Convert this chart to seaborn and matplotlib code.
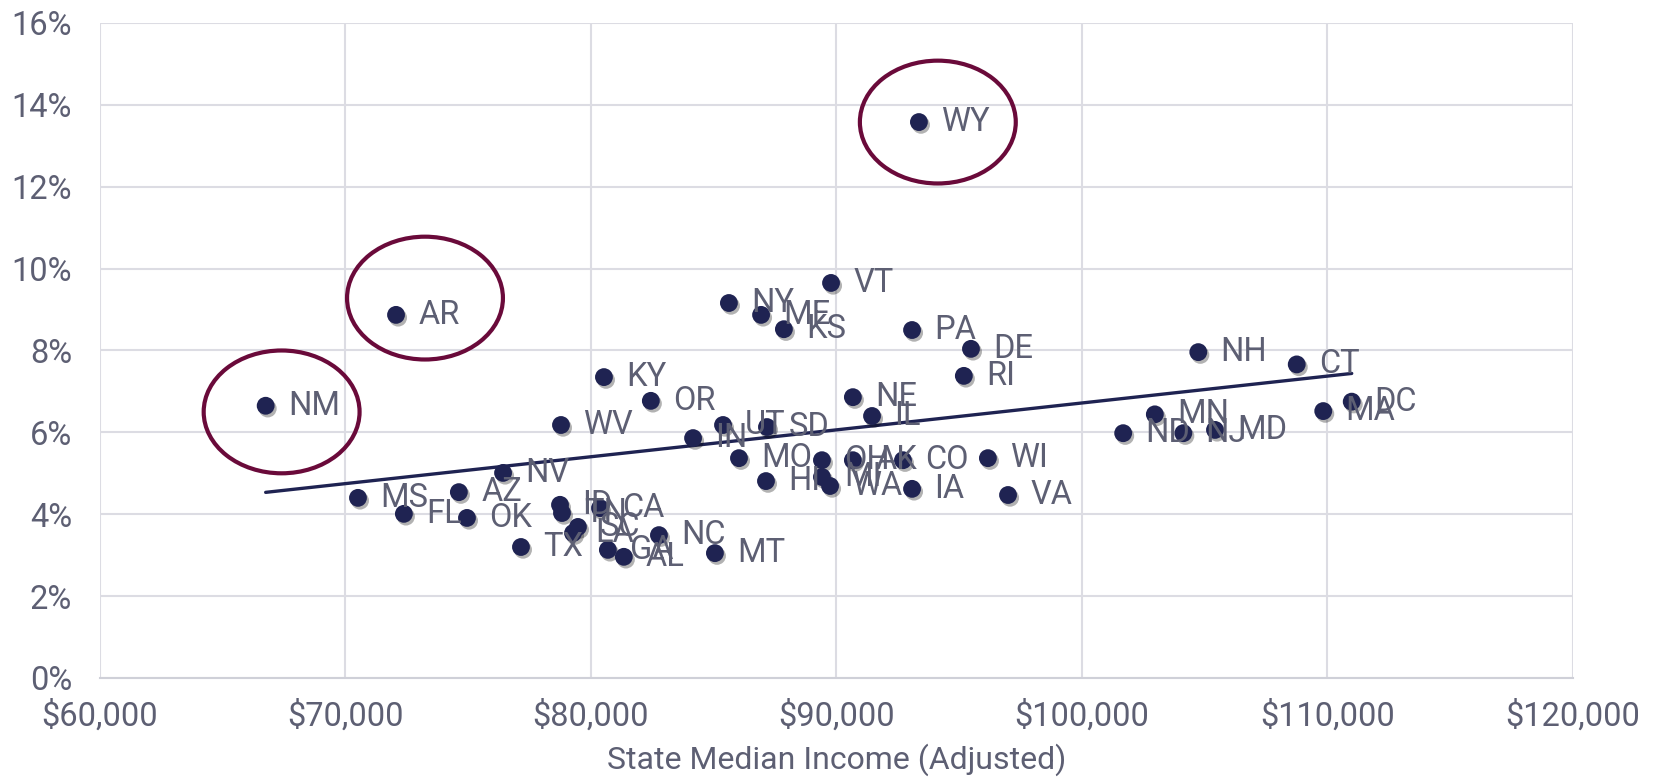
import numpy as np
import pandas as pd
import seaborn as sns
import matplotlib
matplotlib.use('Agg')
import matplotlib.pyplot as plt
import matplotlib.patheffects as pe
from matplotlib.patches import Ellipse
from matplotlib.ticker import FuncFormatter, MultipleLocator

# State data
states = ['NM', 'AR', 'WY', 'MS', 'FL', 'AZ', 'OK', 'NV', 'TX', 'ID',
          'TN', 'LA', 'SC', 'CA', 'GA', 'AL', 'NC', 'MT', 'KY', 'OR',
          'IN', 'UT', 'SD', 'WV', 'NE', 'IL', 'NY', 'ME', 'KS', 'VT',
          'PA', 'DE', 'RI', 'MO', 'HI', 'OH', 'MI', 'WA', 'AK', 'CO',
          'IA', 'WI', 'VA', 'NH', 'CT', 'MN', 'ND', 'NJ', 'MD', 'MA', 'DC']
income = [66750, 72060, 93360, 70510, 72380, 74620, 74950, 76420, 77150, 78740,
          78820, 79270, 79470, 80370, 80690, 81340, 82770, 85050, 80530, 82440,
          84160, 85380, 87170, 78780, 90670, 91450, 85620, 86930, 87860, 89780,
          93080, 95480, 95190, 86030, 87130, 89410, 89410, 89740, 90670, 92710,
          93080, 96170, 96990, 104740, 108750, 102970, 101680, 104130, 105420, 109830, 110990]
rate = [6.65, 8.87, 13.58, 4.40, 4.01, 4.54, 3.91, 5.01, 3.20, 4.23,
        4.03, 3.54, 3.69, 4.15, 3.13, 2.96, 3.49, 3.05, 7.35, 6.77,
        5.86, 6.18, 6.13, 6.18, 6.86, 6.40, 9.16, 8.87, 8.52, 9.65,
        8.50, 8.04, 7.38, 5.37, 4.81, 5.32, 4.91, 4.69, 5.32, 5.32,
        4.62, 5.37, 4.47, 7.96, 7.66, 6.44, 5.98, 5.98, 6.06, 6.52, 6.75]

# outliers circled on the chart
highlight = ['NM', 'AR', 'WY']

df = pd.DataFrame({'state': states, 'income': income, 'rate': rate})

navy = '#1f2352'
text_gray = '#5d5f73'
maroon = '#6a0a3a'

sns.set_theme(style='whitegrid')
plt.rcParams['font.family'] = ['Roboto', 'DejaVu Sans']

fig = plt.figure(figsize=(16.55, 7.82), dpi=100)
ax = fig.add_axes([0.0604, 0.133, 0.89, 0.8376])

sns.regplot(data=df, x='income', y='rate', scatter=False, ci=None, truncate=True,
            line_kws={'color': navy, 'lw': 2.4}, ax=ax)
sns.scatterplot(data=df, x='income', y='rate', s=165, color=navy, edgecolor='none',
                ax=ax, zorder=4)
ax.collections[-1].set_path_effects([
    pe.SimplePatchShadow(offset=(1.5, -2), shadow_rgbFace='black', alpha=0.3),
    pe.Normal()])

for _, row in df.iterrows():
    ax.annotate(row['state'], (row['income'], row['rate']), xytext=(16, 0),
                textcoords='offset points', va='center', ha='left',
                fontsize=23.5, color=text_gray, zorder=5)

# circles around the outliers (offsets are in data units)
circle_shift = {'NM': (650, -0.15), 'AR': (1180, 0.41), 'WY': (770, 0.0)}
for st in highlight:
    r = df[df['state'] == st].iloc[0]
    dx, dy = circle_shift[st]
    ax.add_patch(Ellipse((r['income'] + dx, r['rate'] + dy), width=6350, height=3.0,
                         fill=False, edgecolor=maroon, lw=3, zorder=6))

ax.set_xlim(60000, 120000)
ax.set_ylim(0, 16)
ax.xaxis.set_major_locator(MultipleLocator(10000))
ax.yaxis.set_major_locator(MultipleLocator(2))
ax.xaxis.set_major_formatter(FuncFormatter(lambda v, p: f'${v:,.0f}'))
ax.yaxis.set_major_formatter(FuncFormatter(lambda v, p: f'{v:.0f}%'))
ax.grid(True, color='#dcdce3', lw=1.5)
ax.set_axisbelow(True)
for side in ['top', 'right', 'left']:
    ax.spines[side].set_visible(False)
ax.spines['bottom'].set_color('#cfd0d8')
ax.spines['bottom'].set_linewidth(1.5)
ax.tick_params(axis='both', length=0, labelsize=23.5, labelcolor=text_gray)
ax.tick_params(axis='y', pad=20)
ax.tick_params(axis='x', pad=16)
ax.set_xlabel('State Median Income (Adjusted)', fontsize=23, color=text_gray, labelpad=8)
ax.set_ylabel('')
ax.set_facecolor('white')

fig.savefig('out.png', dpi=100, facecolor='white')
